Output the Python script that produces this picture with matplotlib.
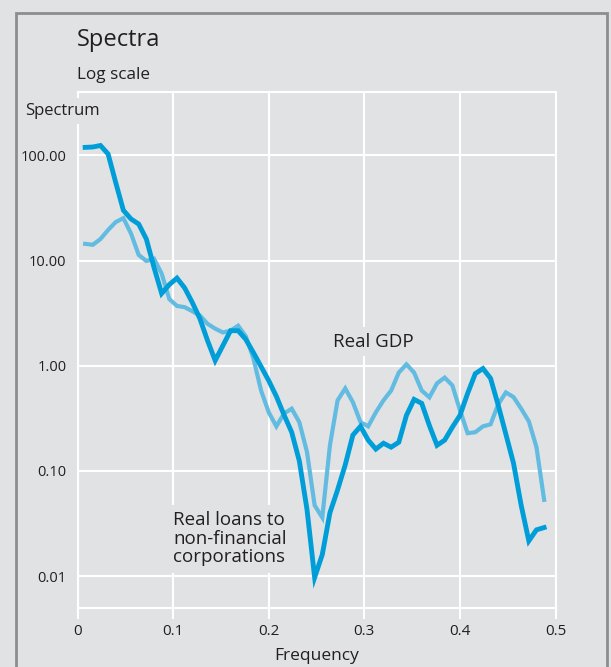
import matplotlib
matplotlib.use("Agg")
import matplotlib.pyplot as plt
from matplotlib.patches import Rectangle
from matplotlib.ticker import FixedLocator, FixedFormatter

plt.rcParams['font.family'] = ['Open Sans', 'DejaVu Sans']

# data: spectra at frequencies k/125
freq = [0.008, 0.016, 0.024, 0.032, 0.040, 0.048, 0.056, 0.064, 0.072, 0.080,
        0.088, 0.096, 0.104, 0.112, 0.120, 0.128, 0.136, 0.144, 0.152, 0.160,
        0.168, 0.176, 0.184, 0.192, 0.200, 0.208, 0.216, 0.224, 0.232, 0.240,
        0.248, 0.256, 0.264, 0.272, 0.280, 0.288, 0.296, 0.304, 0.312, 0.320,
        0.328, 0.336, 0.344, 0.352, 0.360, 0.368, 0.376, 0.384, 0.392, 0.400,
        0.408, 0.416, 0.424, 0.432, 0.440, 0.448, 0.456, 0.464, 0.472, 0.480,
        0.488]

loans = [119, 120, 124, 103, 55, 30, 24.8, 22.2, 16, 8.6,
         4.86, 5.9, 6.8, 5.5, 4.0, 2.8, 1.73, 1.12, 1.55, 2.15,
         2.15, 1.78, 1.33, 0.98, 0.72, 0.51, 0.34, 0.233, 0.124, 0.043,
         0.0097, 0.016, 0.040, 0.066, 0.114, 0.219, 0.265, 0.196, 0.161, 0.183,
         0.168, 0.187, 0.337, 0.478, 0.438, 0.27, 0.175, 0.196, 0.26, 0.337,
         0.545, 0.84, 0.94, 0.757, 0.42, 0.223, 0.118, 0.047, 0.0216, 0.0275,
         0.0289]

gdp = [14.4, 14.1, 16.0, 19.5, 23.2, 25.3, 18.0, 11.3, 9.9, 10.4,
       7.5, 4.3, 3.7, 3.6, 3.3, 3.0, 2.5, 2.25, 2.07, 2.15,
       2.4, 1.9, 1.17, 0.58, 0.36, 0.265, 0.352, 0.39, 0.29, 0.151,
       0.047, 0.036, 0.175, 0.468, 0.608, 0.449, 0.29, 0.265, 0.36, 0.468,
       0.58, 0.86, 1.03, 0.86, 0.58, 0.50, 0.68, 0.77, 0.65, 0.377,
       0.228, 0.233, 0.265, 0.277, 0.43, 0.557, 0.503, 0.39, 0.296, 0.168,
       0.053]

yticks = [0.01, 0.1, 1, 10, 100]
ytick_labels = ["0.01", "0.10", "1.00", "10.00", "100.00"]
xticks = [0, 0.1, 0.2, 0.3, 0.4, 0.5]
xtick_labels = ["0", "0.1", "0.2", "0.3", "0.4", "0.5"]

bg = '#e1e2e4'
txt = '#231f20'
W, H = 611, 667

fig = plt.figure(figsize=(W / 100, H / 100), dpi=100, facecolor=bg)
ax = fig.add_axes([77.5 / W, 1 - 607.7 / H, (555.6 - 77.5) / W, (607.7 - 92) / H])
ax.set_facecolor(bg)

# outer frame
fig.patches.append(Rectangle((16 / W, -0.1), (607 - 16) / W, 1.1 - 13.5 / H,
                             transform=fig.transFigure, fill=False,
                             edgecolor='#8c8d90', linewidth=2))

ax.plot(freq, gdp, color='#62bbe0', lw=3.0, solid_joinstyle='miter', zorder=3)
ax.plot(freq, loans, color='#009ed8', lw=3.5, solid_joinstyle='miter', zorder=4)

ax.set_yscale('log')
ax.set_xlim(0, 0.5)
ax.set_ylim(0.005, 400)
ax.yaxis.set_major_locator(FixedLocator(yticks))
ax.yaxis.set_major_formatter(FixedFormatter(ytick_labels))
ax.yaxis.set_minor_locator(FixedLocator([]))
ax.set_xticks(xticks)
ax.set_xticklabels(xtick_labels)

ax.grid(True, color='white', lw=1.5, zorder=1)
ax.set_axisbelow(True)
for s in ax.spines.values():
    s.set_color('white')
    s.set_linewidth(1.5)
ax.tick_params(axis='x', color='white', width=1.5, length=8, pad=4,
               labelsize=11, labelcolor=txt)
ax.tick_params(axis='y', length=0, pad=8, labelsize=10.5, labelcolor=txt)
ax.set_xlabel('Frequency', fontsize=12.5, color=txt, labelpad=6)

ax.text(0.267, 1.69, 'Real GDP', fontsize=13.5, color=txt, va='center',
        ha='left', zorder=2,
        bbox=dict(boxstyle='square,pad=0.3', fc=bg, ec='none'))
ax.text(0.1, 0.0226, 'Real loans to\nnon-financial\ncorporations', fontsize=13.5,
        color=txt, va='center', ha='left', linespacing=1.05, zorder=2,
        bbox=dict(boxstyle='square,pad=0.35', fc=bg, ec='none'))

fig.text(77 / W, 1 - 40 / H, 'Spectra', fontsize=17, color=txt, va='center')
fig.text(77 / W, 1 - 75 / H, 'Log scale', fontsize=12.3, color=txt, va='center')
fig.text(25 / W, 1 - 111 / H, 'Spectrum', fontsize=12, color=txt,
         va='center', zorder=5,
         bbox=dict(boxstyle='square,pad=0.3', fc=bg, ec='none'))

fig.savefig('out.png', dpi=100, facecolor=bg)
